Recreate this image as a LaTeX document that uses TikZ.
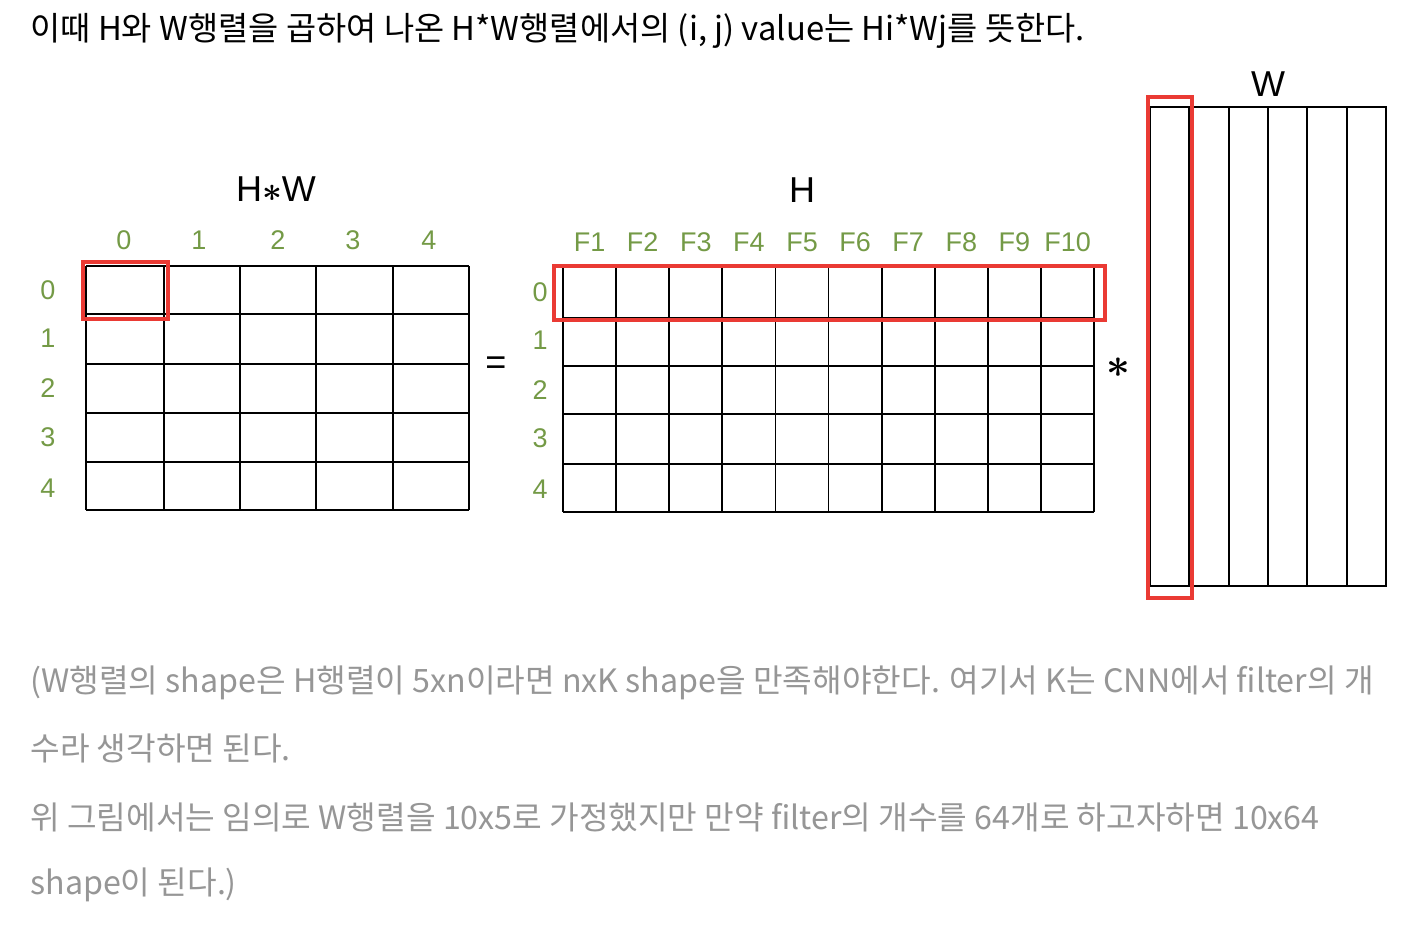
\documentclass[tikz,border=0pt]{standalone}
\usepackage{amsmath}
\usepackage{fontspec}
\setmainfont{Liberation Sans}
\newfontfamily\kr{Noto Sans CJK KR}
\definecolor{lblgreen}{RGB}{116,154,70}
\definecolor{boxred}{RGB}{234,58,52}
\definecolor{notegray}{RGB}{150,150,150}

\begin{document}
\begin{tikzpicture}[x=0.5pt,y=-0.5pt,
 lbl/.style={text=lblgreen,inner sep=0pt,font=\fontsize{13.5}{13.5}\selectfont},
 ttl/.style={inner sep=0pt,font=\fontsize{18}{18}\selectfont},
 note/.style={anchor=west,inner sep=0pt,text=notegray,font=\kr\fontsize{16.1}{16.1}\selectfont},
 gridline/.style={line width=0.9pt},
 sel/.style={draw=boxred,line width=1.7pt}]
\useasboundingbox[fill=white](0,0)rectangle(1418,926);
\node[anchor=west,inner sep=0pt,font=\kr\fontsize{16.4}{16.4}\selectfont](head)at(30,31)
{이때 H와 W행렬을 곱하여 나온 H*W행렬에서의 (i, j) value는 Hi*Wj를 뜻한다.};
% H*W matrix
\foreach \x in {86,164,240,316,393,469}\draw[gridline](\x,266)--(\x,510);
\foreach \y in {266,314,364,413,462,510}\draw[gridline](86,\y)--(469,\y);
\foreach \t/\x in {0/124,1/199,2/278,3/353,4/429}\node[lbl](hwc\t)at(\x,240){\t};
\foreach \t/\y in {0/290,1/338,2/388,3/437,4/488}\node[lbl](hwr\t)at(48,\y){\t};
\node[ttl](hwttl)at(276,189){H$\boldsymbol{\ast}$W};
\draw[sel](83,262)rectangle(168,319);
\node[ttl](eq)at(496,366){=};
% H matrix
\foreach \i in {0,...,10}\draw[gridline](563+53.1*\i,266)--(563+53.1*\i,512);
\foreach \y in {266,318,366,414,464,512}\draw[gridline](563,\y)--(1094,\y);
\foreach \i in {1,...,10}\node[lbl](hf\i)at(536.5+53.1*\i,242){F\i};
\foreach \t/\y in {0/292,1/340,2/390,3/438,4/489}\node[lbl](hr\t)at(540,\y){\t};
\node[ttl](httl)at(802,190){H};
\draw[sel](554,266)rectangle(1105,320);
\node[ttl,font=\fontsize{22}{22}\selectfont](mul)at(1118,368){$\boldsymbol{\ast}$};
% W matrix
\draw[gridline](1150,107)rectangle(1386,586);
\foreach \i in {1,...,5}\draw[gridline](1150+39.33*\i,107)--(1150+39.33*\i,586);
\node[ttl](wttl)at(1268,84){W};
\draw[sel](1148,97)rectangle(1192,598);
% note
\node[note](n1)at(30,683){(W행렬의 shape은 H행렬이 5xn이라면 nxK shape을 만족해야한다. 여기서 K는 CNN에서 filter의 개};
\node[note](n2)at(30,748){수라 생각하면 된다.};
\node[note](n3)at(30,817){위 그림에서는 임의로 W행렬을 10x5로 가정했지만 만약 filter의 개수를 64개로 하고자하면 10x64};
\node[note](n4)at(30,885){shape이 된다.)};
\end{tikzpicture}
\end{document}
